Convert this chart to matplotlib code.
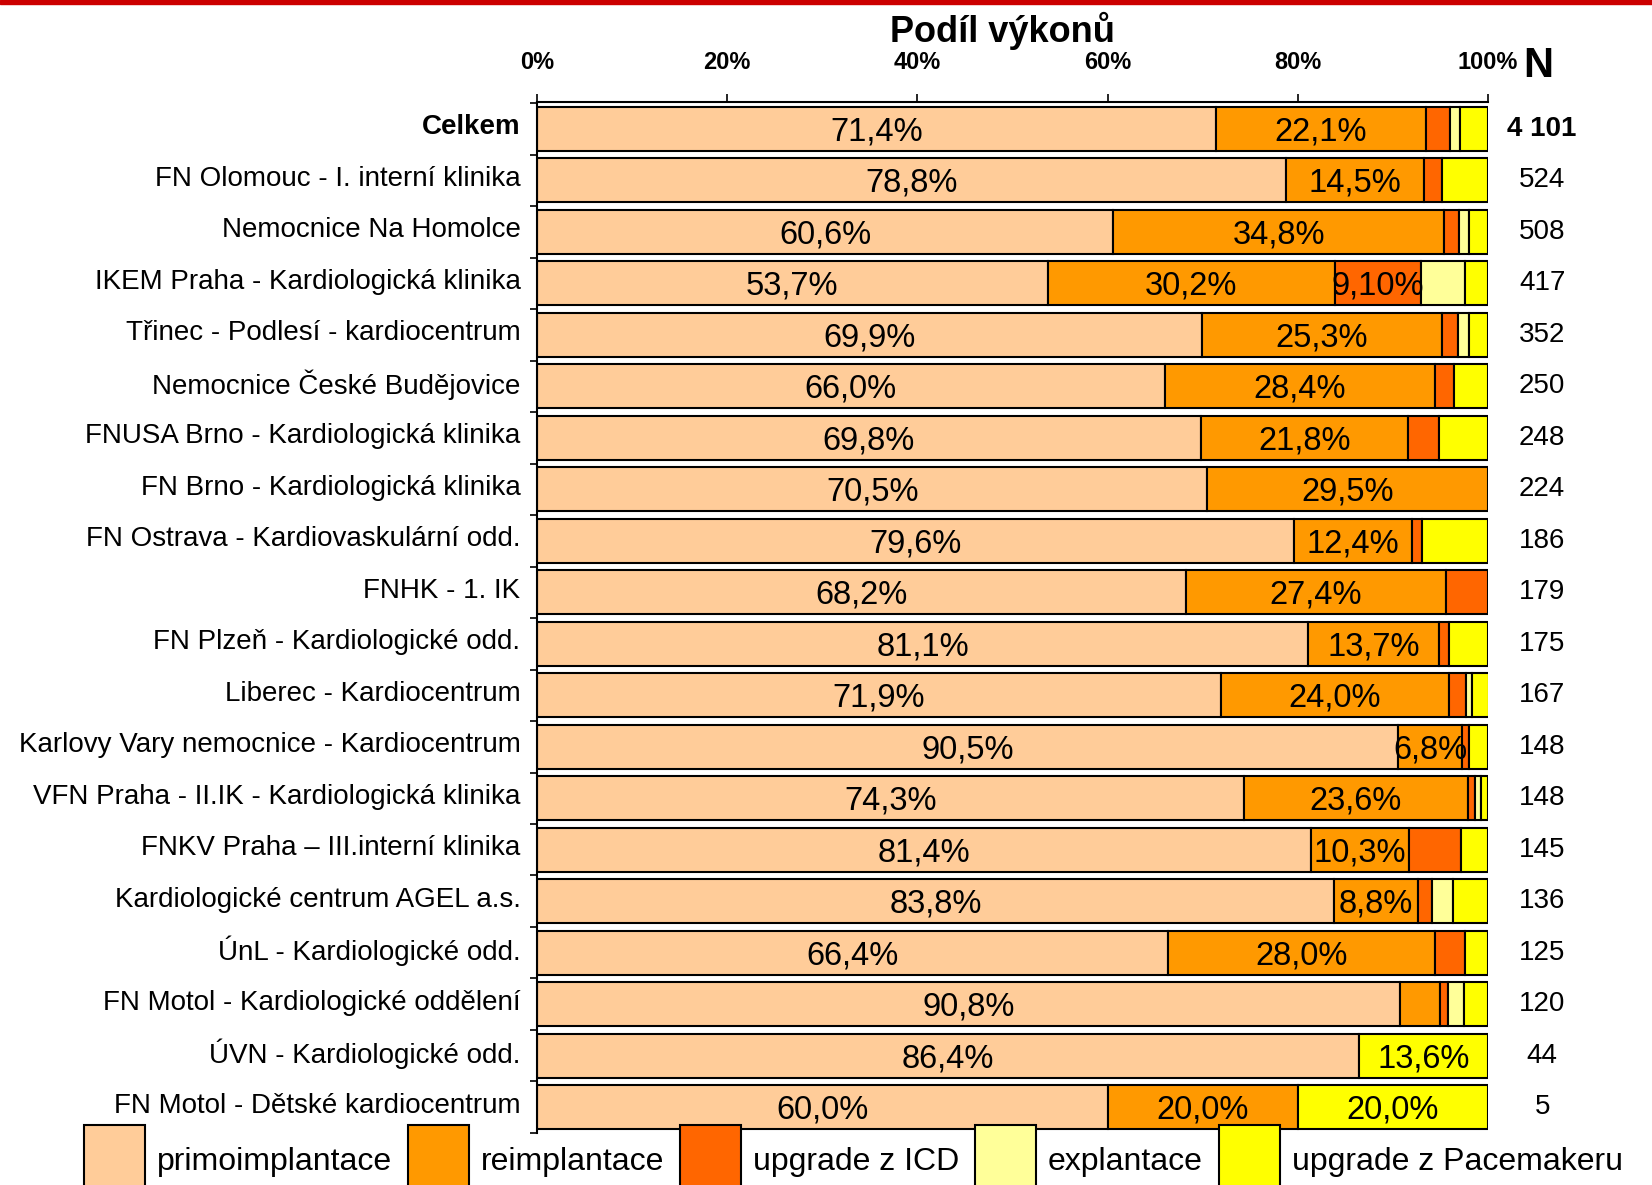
import matplotlib.pyplot as plt
from matplotlib.patches import Patch, Rectangle
from matplotlib.transforms import ScaledTranslation
import numpy as np

plt.rcParams['font.family'] = ['Liberation Sans', 'DejaVu Sans']

categories = ["Celkem", "FN Olomouc - I. interní klinika", "Nemocnice Na Homolce",
              "IKEM Praha - Kardiologická klinika", "Třinec - Podlesí - kardiocentrum",
              "Nemocnice České Budějovice", "FNUSA Brno - Kardiologická klinika",
              "FN Brno - Kardiologická klinika", "FN Ostrava - Kardiovaskulární odd.",
              "FNHK - 1. IK", "FN Plzeň - Kardiologické odd.", "Liberec - Kardiocentrum",
              "Karlovy Vary nemocnice - Kardiocentrum", "VFN Praha - II.IK - Kardiologická klinika",
              "FNKV Praha – III.interní klinika", "Kardiologické centrum AGEL a.s.",
              "ÚnL - Kardiologické odd.", "FN Motol - Kardiologické oddělení",
              "ÚVN - Kardiologické odd.", "FN Motol - Dětské kardiocentrum"]
n_values = ["4 101", "524", "508", "417", "352", "250", "248", "224", "186", "179",
            "175", "167", "148", "148", "145", "136", "125", "120", "44", "5"]

primo = [71.4, 78.8, 60.6, 53.7, 69.9, 66.0, 69.8, 70.5, 79.6, 68.2, 81.1, 71.9, 90.5, 74.3, 81.4, 83.8, 66.4, 90.8, 86.4, 60.0]
reimpl = [22.1, 14.5, 34.8, 30.2, 25.3, 28.4, 21.8, 29.5, 12.4, 27.4, 13.7, 24.0, 6.8, 23.6, 10.3, 8.8, 28.0, 4.2, 0, 20.0]
icd = [2.5, 1.9, 1.6, 9.1, 1.7, 2.0, 3.2, 0, 1.1, 4.4, 1.1, 1.8, 0.7, 0.7, 5.5, 1.5, 3.2, 0.8, 0, 0]
explant = [1.1, 0, 1.0, 4.6, 1.1, 0, 0, 0, 0, 0, 0, 0.6, 0, 0.7, 0, 2.2, 0, 1.7, 0, 0]
pm = [2.9, 4.8, 2.0, 2.4, 2.0, 3.6, 5.2, 0, 6.9, 0, 4.1, 1.8, 2.0, 0.7, 2.8, 3.7, 2.4, 2.5, 13.6, 20.0]

series = [primo, reimpl, icd, explant, pm]
names = ["primoimplantace", "reimplantace", "upgrade z ICD", "explantace", "upgrade z Pacemakeru"]
colors = ["#FFCC99", "#FF9900", "#FF6600", "#FFFF99", "#FFFF00"]
# which segments carry a label: value above threshold, decimals used
thresholds = [5, 5, 9, 100, 10]
decimals = [1, 1, 2, 1, 1]

fig = plt.figure(figsize=(16.52, 11.85), dpi=100)
ax = fig.add_axes([0.3251, 0.0439, 0.5756, 0.8700])

y = np.arange(len(categories))
left = np.zeros(len(categories))
down = ScaledTranslation(0, -0.03, fig.dpi_scale_trans)
for vals, col, thr, dec in zip(series, colors, thresholds, decimals):
    vals = np.array(vals, dtype=float)
    m = vals > 0
    ax.barh(y[m], vals[m], left=left[m], height=0.855, color=col,
            edgecolor='black', linewidth=1.5)
    for yi, v, l in zip(y, vals, left):
        if v > thr:
            txt = f"{v:.{dec}f}%".replace('.', ',')
            ax.text(l + v / 2, yi, txt, ha='center', va='center', fontsize=23.5,
                    transform=ax.transData + down)
    left += vals

ax.set_xlim(0, 100)
ax.set_ylim(19.46, -0.52)
ax.xaxis.tick_top()
ax.set_xticks(np.arange(0, 101, 20))
ax.set_xticklabels([f"{t}%" for t in range(0, 101, 20)], fontsize=17, fontweight='bold')
ax.tick_params(axis='x', direction='out', length=6, width=1.2, pad=14)
ax.set_yticks(y)
ax.set_yticklabels(categories, fontsize=20)
ax.set_yticks(np.arange(-0.5, len(categories)), minor=True)
ax.tick_params(axis='y', which='major', length=0, pad=12)
ax.tick_params(axis='y', which='minor', length=5, width=1.2, direction='out')
up = ScaledTranslation(0, 0.045, fig.dpi_scale_trans)
for lab in ax.get_yticklabels():
    lab.set_transform(lab.get_transform() + up)
ax.get_yticklabels()[0].set_fontweight('bold')
for s in ['right', 'bottom']:
    ax.spines[s].set_visible(False)
for s in ['top', 'left']:
    ax.spines[s].set_linewidth(1.5)

for yi, n in zip(y, n_values):
    ax.text(1.057, yi, n, transform=ax.get_yaxis_transform(), ha='center', va='center',
            fontsize=20, fontweight='bold' if yi == 0 else 'normal')

fig.text(1002 / 1652, 1 - 31 / 1185, "Podíl výkonů", ha='center', va='center',
         fontsize=26, fontweight='bold')
fig.text(1538 / 1652, 1 - 66 / 1185, "N", ha='center', va='center',
         fontsize=30, fontweight='bold')

# red line on top
fig.patches.append(Rectangle((0, 1 - 4 / 1185), 1, 4 / 1185, transform=fig.transFigure,
                             color='#CC0000', zorder=5))

handles = [Patch(facecolor=c, edgecolor='black', linewidth=1.5) for c in colors]
fig.legend(handles, names, loc='upper left', bbox_to_anchor=(84 / 1652, 1 - 1125 / 1185),
           ncol=5, frameon=False, fontsize=23, handlelength=1.9, handleheight=3.1,
           handletextpad=0.38, columnspacing=0.5, borderpad=0, borderaxespad=0)

fig.savefig("out.png", dpi=100)
